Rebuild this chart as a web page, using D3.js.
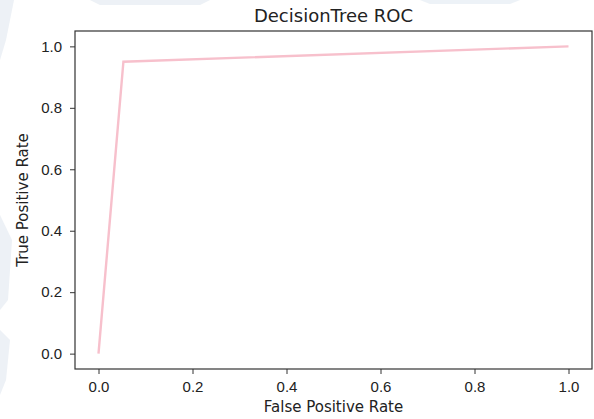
<!DOCTYPE html>
<html>
<head>
<meta charset="utf-8">
<script src="https://cdn.jsdelivr.net/npm/d3@7"></script>
<style>
  html, body { margin: 0; padding: 0; background: #fff; }
  svg { display: block; font-family: "DejaVu Sans", sans-serif; }
  .tick text { fill: #222; font-size: 15px; }
  .tick line { stroke: #333; }
</style>
</head>
<body>
<svg id="chart" width="594" height="419"></svg>
<script>
// ROC curve of the decision tree
const fpr = [0, 0.053, 1];
const tpr = [0, 0.95, 1];
const xTicks = [0, 0.2, 0.4, 0.6, 0.8, 1.0];
const yTicks = [0, 0.2, 0.4, 0.6, 0.8, 1.0];

const W = 594, H = 419;
const margin = { top: 31, right: 2, bottom: 50, left: 75 };

const svg = d3.select("#chart");

// faint watermark bits on the edges of the screenshot
const bg = svg.append("g").attr("fill", "#e6ecf3").attr("opacity", 0.7);
bg.append("path").attr("d", "M0,0 L14,0 L6,40 L0,60 Z");
bg.append("path").attr("d", "M0,215 L12,240 L8,300 L0,310 Z");
bg.append("path").attr("d", "M0,330 L10,340 L6,380 L0,395 Z");
bg.append("path").attr("d", "M90,0 L210,0 L200,5 L100,5 Z");
bg.append("path").attr("d", "M420,0 L520,0 L510,4 L430,4 Z");

const x = d3.scaleLinear()
  .domain([-0.05, 1.05])
  .range([margin.left, W - margin.right]);

const y = d3.scaleLinear()
  .domain([-0.05, 1.05])
  .range([H - margin.bottom, margin.top]);

// curve
const data = fpr.map((d, i) => ({ fpr: d, tpr: tpr[i] }));
svg.append("path")
  .datum(data)
  .attr("fill", "none")
  .attr("stroke", "#f7c0cc")
  .attr("stroke-width", 2.4)
  .attr("stroke-linejoin", "miter")
  .attr("d", d3.line().x(d => x(d.fpr)).y(d => y(d.tpr)));

// axes
const xAxis = svg.append("g")
  .attr("transform", `translate(0,${H - margin.bottom})`)
  .call(d3.axisBottom(x).tickValues(xTicks).tickFormat(d3.format(".1f")).tickSize(5).tickPadding(7));
xAxis.select(".domain").remove();

const yAxis = svg.append("g")
  .attr("transform", `translate(${margin.left},0)`)
  .call(d3.axisLeft(y).tickValues(yTicks).tickFormat(d3.format(".1f")).tickSize(5).tickPadding(8));
yAxis.select(".domain").remove();

// frame
svg.append("rect")
  .attr("x", margin.left)
  .attr("y", margin.top)
  .attr("width", W - margin.left - margin.right)
  .attr("height", H - margin.top - margin.bottom)
  .attr("fill", "none")
  .attr("stroke", "#333")
  .attr("stroke-width", 1.2);

const cx = (margin.left + W - margin.right) / 2;

svg.append("text")
  .attr("x", cx)
  .attr("y", 22)
  .attr("text-anchor", "middle")
  .attr("fill", "#222")
  .style("font-size", "18px")
  .text("DecisionTree ROC");

svg.append("text")
  .attr("x", cx)
  .attr("y", 412)
  .attr("text-anchor", "middle")
  .attr("fill", "#222")
  .style("font-size", "15px")
  .text("False Positive Rate");

svg.append("text")
  .attr("transform", `translate(28,${(margin.top + H - margin.bottom) / 2}) rotate(-90)`)
  .attr("text-anchor", "middle")
  .attr("fill", "#222")
  .style("font-size", "15px")
  .text("True Positive Rate");
</script>
</body>
</html>
